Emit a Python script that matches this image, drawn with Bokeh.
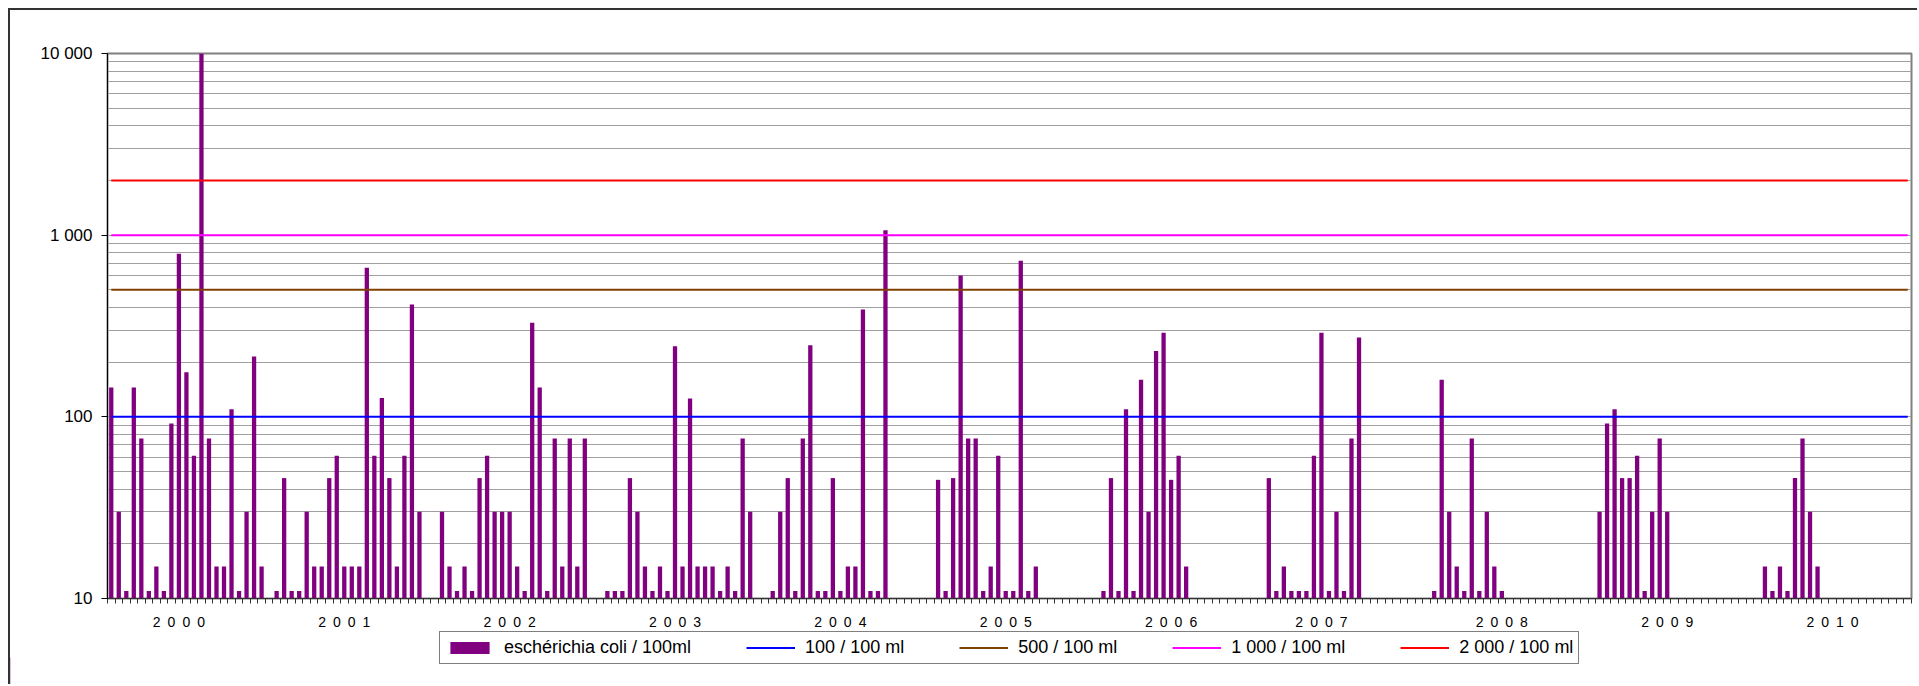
from bokeh.plotting import figure
from bokeh.layouts import column
from bokeh.models import FixedTicker, Legend, LegendItem, Range1d
from bokeh.embed import file_html
from bokeh.resources import INLINE

# ---- data -------------------------------------------------------------
# one entry per sampling slot (category); None = no sample in that slot
ecoli_values = [
    145, 30, 11, 145, 76, 11, 15, 11, 92, 790, 176, 61, 10500, 76, 15, 15, 110, 11, 30, 215,
    15, None, 11, 46, 11, 11, 30, 15, 15, 46, 61, 15, 15, 15, 661, 61, 127, 46, 15, 61,
    415, 30, None, None, 30, 15, 11, 15, 11, 46, 61, 30, 30, 30, 15, 11, 330, 145, 11, 76,
    15, 76, 15, 76, None, None, 11, 11, 11, 46, 30, 15, 11, 15, 11, 245, 15, 126, 15, 15,
    15, 11, 15, 11, 76, 30, None, None, 11, 30, 46, 11, 76, 248, 11, 11, 46, 11, 15, 15,
    390, 11, 11, 1063, None, None, None, None, None, None, 45, 11, 46, 600, 76, 76, 11, 15, 61, 11,
    11, 722, 11, 15, None, None, None, None, None, None, None, None, 11, 46, 11, 110, 11, 160, 30, 230,
    290, 45, 61, 15, None, None, None, None, None, None, None, None, None, None, 46, 11, 15, 11, 11, 11,
    61, 290, 11, 30, 11, 76, 273, None, None, None, None, None, None, None, None, None, 11, 160, 30, 15,
    11, 76, 11, 30, 15, 11, None, None, None, None, None, None, None, None, None, None, None, None, 30, 92,
    110, 46, 46, 61, 11, 30, 76, 30, None, None, None, None, None, None, None, None, None, None, None, None,
    15, 11, 15, 11, 46, 76, 30, 15, None, None, None, None, None, None, None, None, None, None, None, None,
]
series_label = "eschérichia coli / 100ml"
series_color = "#800080"

year_labels = ["2000", "2001", "2002", "2003", "2004", "2005",
               "2006", "2007", "2008", "2009", "2010"]
year_slots = [9, 31, 53, 75, 97, 119, 141, 161, 185, 207, 229]

threshold_values = [100, 500, 1000, 2000]
threshold_labels = ["100 / 100 ml", "500 / 100 ml", "1 000 / 100 ml", "2 000 / 100 ml"]
threshold_colors = ["#0000FF", "#804000", "#FF00FF", "#FF0000"]

y_major = [10, 100, 1000, 10000]
y_major_labels = ["10", "100", "1 000", "10 000"]

# ---- main figure --------------------------------------------------------
n_slots = len(ecoli_values)
slot_centers = [i + 0.5 for i in range(n_slots)]
bar_x = [c for c, v in zip(slot_centers, ecoli_values) if v is not None]
bar_top = [v for v in ecoli_values if v is not None]

FONT = "Liberation Sans"
BORDER = "2px solid #333333"

p = figure(width=1909, height=622, y_axis_type="log",
           x_range=(0, n_slots), y_range=(y_major[0], y_major[-1]),
           output_backend="svg", toolbar_location=None, title=None)
p.margin = (8, 0, 0, 8)
p.min_border_left = 97
p.min_border_right = 8
p.min_border_top = 43
p.min_border_bottom = 30
p.styles = {"border-top": BORDER, "border-left": BORDER}
p.background_fill_color = "white"
p.border_fill_color = "white"
p.outline_line_color = "#808080"
p.outline_line_width = 2

p.xgrid.grid_line_color = None
p.ygrid.grid_line_color = "#a0a0a0"
p.ygrid.minor_grid_line_color = "#a0a0a0"

minor = []
for base in y_major[:-1]:
    minor += [base * k for k in range(2, 10)]
p.yaxis.ticker = FixedTicker(ticks=y_major, minor_ticks=minor)
p.yaxis.major_label_overrides = {v: t for v, t in zip(y_major, y_major_labels)}
p.yaxis.major_label_text_font = FONT
p.yaxis.major_label_text_font_size = "17px"
p.yaxis.major_label_text_color = "#000000"
p.yaxis.major_label_standoff = 9
p.yaxis.major_tick_in = 0
p.yaxis.major_tick_out = 6
p.yaxis.minor_tick_line_color = None
p.yaxis.axis_line_color = "#000000"
p.yaxis.major_tick_line_color = "#000000"

year_ticks = [s + 0.5 for s in year_slots]
p.xaxis.ticker = FixedTicker(ticks=year_ticks, minor_ticks=list(range(n_slots + 1)))
p.xaxis.major_label_overrides = {
    t: "\u2002".join(list(lbl)) for t, lbl in zip(year_ticks, year_labels)
}
p.xaxis.major_label_text_font = FONT
p.xaxis.major_label_text_font_size = "14px"
p.xaxis.major_label_text_color = "#000000"
p.xaxis.major_label_standoff = 10
p.xaxis.major_tick_in = 0
p.xaxis.major_tick_out = 0
p.xaxis.major_tick_line_color = None
p.xaxis.minor_tick_in = 0
p.xaxis.minor_tick_out = 5
p.xaxis.minor_tick_line_color = "#333333"
p.xaxis.axis_line_color = "#333333"

bars = p.vbar(x=bar_x, top=bar_top, bottom=y_major[0], width=0.57,
              fill_color=series_color, line_color=None)

for val, col in zip(threshold_values, threshold_colors):
    p.line(x=[slot_centers[0], slot_centers[-1]], y=[val, val],
           line_color=col, line_width=2)

# ---- legend strip (separate figure so the legend is not clipped) --------
lf = figure(width=1909, height=54, x_range=Range1d(0, 1), y_range=Range1d(0, 1),
            output_backend="svg", toolbar_location=None, title=None,
            x_axis_location=None, y_axis_location=None)
lf.frame_align = False
lf.margin = (0, 0, 0, 8)
lf.min_border_left = 0
lf.min_border_right = 0
lf.min_border_top = 0
lf.min_border_bottom = 0
lf.styles = {"border-left": BORDER}
lf.outline_line_color = None
lf.background_fill_color = "white"
lf.border_fill_color = "white"
lf.xgrid.visible = False
lf.ygrid.visible = False

# legend-key renderers: one point each, placed outside the visible range
key_x = [-5.0, -4.0]
key_y = [0.5, 0.5]
leg_bar = lf.vbar(x=key_x[:1], top=key_y[:1], width=0.5,
                  fill_color=series_color, line_color=None)
items = [LegendItem(label=series_label, renderers=[leg_bar])]
for lbl, col in zip(threshold_labels, threshold_colors):
    r = lf.line(x=key_x, y=key_y, line_color=col, line_width=2)
    items.append(LegendItem(label=lbl, renderers=[r]))

legend = Legend(items=items, orientation="horizontal", location=(429, 20))
legend.label_text_font = FONT
legend.label_text_font_size = "18px"
legend.label_text_color = "#000000"
legend.glyph_width = 49
legend.glyph_height = 15
legend.label_standoff = 10
legend.label_height = 17
legend.spacing = 55
legend.padding = 5
legend.margin = 0
legend.border_line_color = "#000000"
legend.border_line_width = 1
legend.background_fill_color = "white"
legend.background_fill_alpha = 1.0
lf.add_layout(legend)

layout = column(p, lf, spacing=0)
open("out.html", "w").write(file_html(layout, INLINE))
